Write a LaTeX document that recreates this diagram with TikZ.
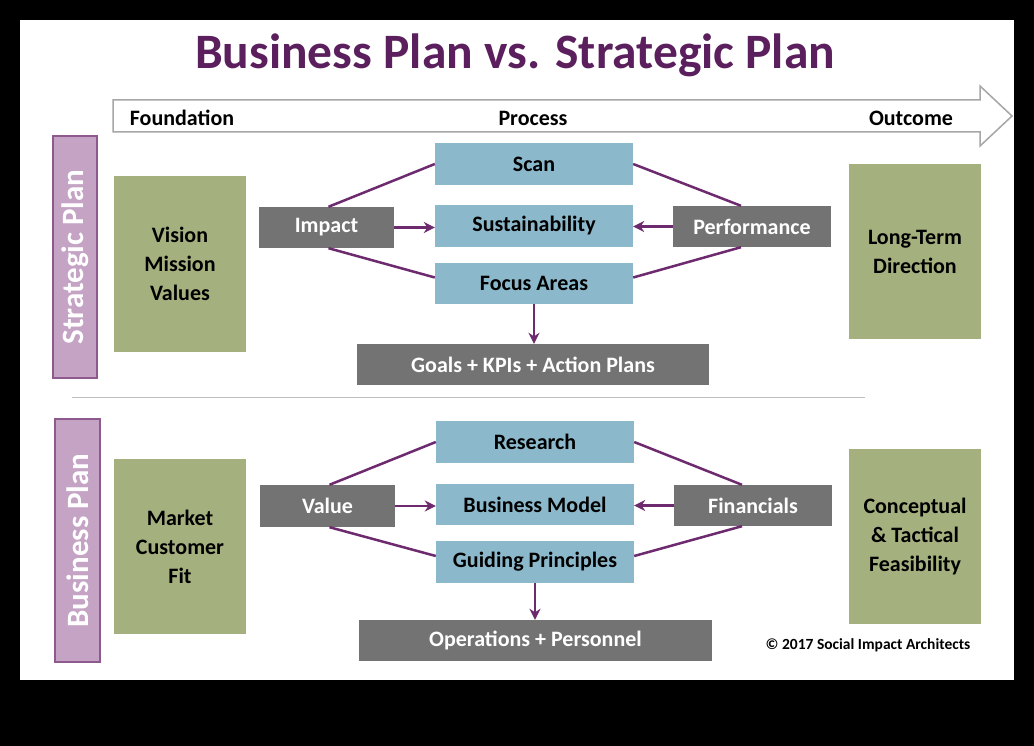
\documentclass[tikz,border=0pt]{standalone}
\usepackage{fontspec}
\setmainfont{Carlito}
\usetikzlibrary{arrows.meta}
\definecolor{tpurple}{HTML}{5B1F5E}
\definecolor{lpurple}{HTML}{C4A3C4}
\definecolor{dpurple}{HTML}{8E5A8E}
\definecolor{lgreen}{HTML}{A4B07E}
\definecolor{lblue}{HTML}{8CB8CB}
\definecolor{dgray}{HTML}{737373}
\definecolor{lpline}{HTML}{6E2A6E}
\begin{document}
\begin{tikzpicture}[x=1pt,y=-1pt,
  box/.style={draw=none,inner sep=0pt,align=center,font=\bfseries\fontsize{22}{29}\selectfont},
  green/.style={box,fill=lgreen,text=black},
  blue/.style={box,fill=lblue,text=black},
  gray/.style={box,fill=dgray,text=white},
  side/.style={draw=dpurple,line width=1.5pt,fill=lpurple,text=white,inner sep=0pt,font=\bfseries\fontsize{31}{33}\selectfont},
  pl/.style={draw=lpline,line width=2.5pt},
  pa/.style={pl,-{Stealth[length=11pt,width=11pt]}},
  lab/.style={font=\bfseries\fontsize{22}{24}\selectfont}]
\useasboundingbox (0,0) rectangle (1034,746);
\fill[black] (0,0) rectangle (1034,746);
\fill[white] (20,20) rectangle (1014,680);
\node[font=\bfseries\fontsize{49.5}{51}\selectfont,text=tpurple] (title) at (515,55) {Business Plan vs. Strategic Plan};
\draw[draw=gray!70,line width=1.5pt,fill=white] (113,100) -- (980,100) -- (980,86) -- (1012,116) -- (980,146) -- (980,132) -- (113,132) -- cycle;
\node[lab] (f) at (182,118) {Foundation};
\node[lab] (p) at (533,118) {Process};
\node[lab] (o) at (911,118) {Outcome};
% side labels
\node[side,minimum width=242pt,minimum height=44pt,rotate=90] (sp) at (75,257) {Strategic Plan};
\node[side,minimum width=243pt,minimum height=45pt,rotate=90] (bp) at (77.5,540.5) {Business Plan};
% green
\node[green,minimum width=132pt,minimum height=176pt] (vmv) at (180,264) {Vision\\Mission\\Values};
\node[green,minimum width=132pt,minimum height=175pt] (ltd) at (915,251.5) {Long-Term\\Direction};
\node[green,minimum width=132pt,minimum height=175pt] (mcf) at (180,546.5) {Market\\Customer\\Fit};
\node[green,minimum width=132pt,minimum height=175pt] (ctf) at (915,536.5) {Conceptual\\\& Tactical\\Feasibility};
% blue
\node[blue,minimum width=198pt,minimum height=42pt] (scan) at (534,164) {Scan};
\node[blue,minimum width=198pt,minimum height=42pt] (sus) at (534,226) {Sustainability};
\node[blue,minimum width=198pt,minimum height=41pt] (foc) at (534,283.5) {Focus Areas};
\node[blue,minimum width=198pt,minimum height=42pt] (res) at (535,442) {Research};
\node[blue,minimum width=198pt,minimum height=41pt] (bm) at (535,504.5) {Business Model};
\node[blue,minimum width=198pt,minimum height=42pt] (gp) at (535,562) {Guiding Principles};
% gray
\node[gray,minimum width=135pt,minimum height=41pt] (imp) at (326.5,227.5) {Impact};
\node[gray,minimum width=158pt,minimum height=41pt] (perf) at (752,226.5) {Performance};
\node[gray,minimum width=352pt,minimum height=41pt] (goals) at (533,364.5) {Goals + KPIs + Action Plans};
\node[gray,minimum width=135pt,minimum height=42pt] (val) at (327.5,506) {Value};
\node[gray,minimum width=158pt,minimum height=41pt] (fin) at (753,505.5) {Financials};
\node[gray,minimum width=353pt,minimum height=41pt] (ops) at (535.5,640.5) {Operations + Personnel};
% connectors top
\draw[pl] ([xshift=2pt]imp.north) -- (scan.west);
\draw[pl] ([xshift=2pt]imp.south) -- ([yshift=6pt]foc.west);
\draw[pa] (imp.east) -- (imp.east -| sus.west);
\draw[pl] ([xshift=-11pt]perf.north) -- (scan.east);
\draw[pl] ([xshift=-11pt]perf.south) -- ([yshift=6pt]foc.east);
\draw[pa] (perf.west) -- (perf.west -| sus.east);
\draw[pa] (foc.south) -- (foc.south |- goals.north);
% connectors bottom
\draw[pl] ([xshift=2pt]val.north) -- (res.west);
\draw[pl] ([xshift=2pt]val.south) -- ([yshift=6pt]gp.west);
\draw[pa] (val.east) -- (val.east -| bm.west);
\draw[pl] ([xshift=-11pt]fin.north) -- (res.east);
\draw[pl] ([xshift=-11pt]fin.south) -- ([yshift=6pt]gp.east);
\draw[pa] (fin.west) -- (fin.west -| bm.east);
\draw[pa] (gp.south) -- (gp.south |- ops.north);
\draw[gray!50,line width=1pt] (72,397) -- (865,397);
\node[font=\bfseries\fontsize{15.5}{17}\selectfont] (copy) at (868,645) {© 2017 Social Impact Architects};
\end{tikzpicture}
\end{document}
